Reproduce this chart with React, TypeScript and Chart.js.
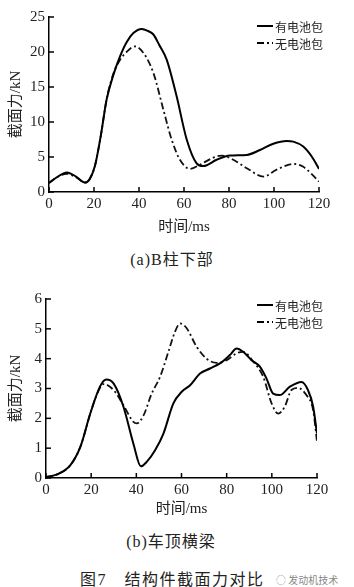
import React, { useEffect, useRef } from "react";
import { Chart, registerables } from "chart.js";

Chart.register(...registerables);

// ---------- data ----------
const seriesNames = ["有电池包", "无电池包"];

// (a) B柱下部
const aWithT = [0, 3, 8, 12, 16, 18, 20.4, 23, 25.6, 28.5, 31.6, 34.5, 37.5, 41.2, 44, 46.4, 49, 52.3, 56.7, 61.2, 65.6, 68.6, 74.5, 80.4, 87.9, 93.8, 99.7, 105.6, 108.6, 113, 116.7, 120];
const aWithF = [1.3, 2.0, 2.8, 2.2, 1.35, 1.8, 3.7, 8, 13.2, 16.6, 19.4, 21.4, 22.7, 23.3, 23.0, 22.5, 21.0, 18.9, 13.7, 7.5, 4.1, 3.7, 4.6, 5.2, 5.3, 6.0, 6.9, 7.3, 7.2, 6.5, 5.1, 3.3];
const aWithoutT = [0, 3, 8, 12, 16, 18, 20.4, 23, 25.6, 28.5, 31.6, 34.5, 38.2, 41.9, 46.4, 50.8, 54.5, 58.2, 62.7, 67.1, 73, 76.7, 81.9, 87.9, 95.3, 101.2, 108.6, 113, 120];
const aWithoutF = [1.3, 2.0, 2.6, 2.1, 1.35, 1.8, 3.7, 8, 13.2, 16.8, 18.9, 20.0, 20.8, 19.9, 17, 11.8, 7.5, 4.6, 3.3, 3.9, 4.9, 5.2, 4.6, 3.4, 2.2, 3.2, 4.0, 3.6, 1.5];

// (b) 车顶横梁
const bWithT = [0, 4.9, 10.8, 15.2, 19.6, 24, 26.7, 29.9, 34.3, 38.7, 42, 44.6, 48.3, 52, 56.4, 60.1, 63.8, 68.2, 72.6, 77, 81.4, 84.4, 87.3, 91, 94.7, 97.6, 100.6, 103.5, 108, 113.1, 116, 118.3, 120];
const bWithF = [0.03, 0.12, 0.43, 1.04, 2.16, 3.08, 3.3, 3.17, 2.39, 1.15, 0.39, 0.54, 0.93, 1.49, 2.5, 2.89, 3.11, 3.5, 3.67, 3.84, 4.12, 4.34, 4.23, 3.95, 3.73, 3.34, 2.83, 2.78, 3.06, 3.22, 2.95, 2.39, 1.49];
const bWithoutT = [0, 4.9, 10.8, 15.2, 19.6, 22, 25.5, 29.9, 34.3, 38.7, 40.2, 43.2, 46.8, 50.5, 54.2, 57.1, 59.4, 62.3, 66.7, 71.1, 75.6, 80, 84.4, 87.3, 91.8, 96.2, 99.9, 102.8, 105.7, 108.7, 111.6, 115.3, 118.3, 120];
const bWithoutF = [0.03, 0.12, 0.43, 1.04, 2.16, 2.7, 3.15, 2.95, 2.44, 1.88, 1.83, 2.1, 2.83, 3.39, 4.23, 4.9, 5.18, 5.02, 4.4, 4.0, 3.86, 3.95, 4.18, 4.23, 3.9, 3.39, 2.5, 2.16, 2.39, 2.95, 3.02, 2.78, 2.27, 1.21];

const xTitle = "时间/ms";
const yTitle = "截面力/kN";
const captionA = "(a)B柱下部";
const captionB = "(b)车顶横梁";
const figCaption = "图7\u3000结构件截面力对比";
const watermark = "发动机技术";

const SERIF = "'Liberation Serif', 'Times New Roman', 'DejaVu Serif', 'Noto Sans CJK SC', serif";
const TEXT = "#222";
const DASHDOT = [7, 3, 2, 3];

const toPts = (t: number[], f: number[]) => t.map((x, i) => ({ x, y: f[i] }));

// inner ticks + legend plugin
const decorPlugin = {
  id: "decor",
  afterDraw(chart: any) {
    const { ctx, chartArea } = chart;
    const xs = chart.scales.x;
    const ys = chart.scales.y;
    ctx.save();
    ctx.strokeStyle = "#000";
    ctx.lineWidth = 1.5;
    const tl = 5;
    xs.ticks.forEach((t: any) => {
      const px = xs.getPixelForValue(t.value);
      ctx.beginPath();
      ctx.moveTo(px, chartArea.bottom);
      ctx.lineTo(px, chartArea.bottom - tl);
      ctx.stroke();
    });
    ys.ticks.forEach((t: any) => {
      const py = ys.getPixelForValue(t.value);
      ctx.beginPath();
      ctx.moveTo(chartArea.left, py);
      ctx.lineTo(chartArea.left + tl, py);
      ctx.stroke();
    });
    // legend
    const lg = chart.options.plugins.decor;
    ctx.font = "12px 'Noto Sans CJK SC', sans-serif";
    ctx.fillStyle = TEXT;
    ctx.textBaseline = "middle";
    chart.data.datasets.forEach((ds: any, i: number) => {
      const y = lg.y + i * lg.gap;
      ctx.beginPath();
      ctx.setLineDash(ds.borderDash || []);
      ctx.lineWidth = 2;
      ctx.strokeStyle = "#000";
      ctx.moveTo(lg.x, y);
      ctx.lineTo(lg.x + 16, y);
      ctx.stroke();
      ctx.setLineDash([]);
      ctx.fillText(ds.label, lg.x + 18, y + 1);
    });
    ctx.restore();
  },
};

type Props = {
  withT: number[]; withF: number[]; withoutT: number[]; withoutF: number[];
  yMax: number; yStep: number; yWidth: number; xHeight: number;
  padTop: number; padRight: number; titleBottom: number; legendY: number; legendGap: number;
};

function ForceChart(p: Props) {
  const ref = useRef<HTMLCanvasElement>(null);
  useEffect(() => {
    const chart = new Chart(ref.current!, {
      type: "line",
      data: {
        datasets: [
          {
            label: seriesNames[0],
            data: toPts(p.withT, p.withF),
            borderColor: "#000",
            borderWidth: 2,
            pointRadius: 0,
            cubicInterpolationMode: "monotone",
          },
          {
            label: seriesNames[1],
            data: toPts(p.withoutT, p.withoutF),
            borderColor: "#111",
            borderWidth: 1.8,
            borderDash: DASHDOT,
            pointRadius: 0,
            cubicInterpolationMode: "monotone",
          },
        ],
      },
      options: {
        responsive: false,
        animation: false,
        layout: { padding: { left: 0, right: p.padRight, top: p.padTop, bottom: 0 } },
        plugins: {
          legend: { display: false },
          tooltip: { enabled: false },
          decor: { x: 257, y: p.legendY, gap: p.legendGap },
        } as any,
        scales: {
          x: {
            type: "linear",
            min: 0,
            max: 120,
            ticks: { stepSize: 20, color: TEXT, padding: 3, font: { family: SERIF, size: 15 }, maxRotation: 0 },
            grid: { display: true, drawOnChartArea: false, drawTicks: false },
            border: { display: true, color: "#000", width: 1.5 },
            title: { display: true, text: xTitle, color: TEXT, font: { family: SERIF, size: 15 }, padding: { top: 0, bottom: p.titleBottom } },
            afterFit: (s: any) => { s.height = p.xHeight; },
          },
          y: {
            min: 0,
            max: p.yMax,
            ticks: { stepSize: p.yStep, color: TEXT, padding: 4, font: { family: SERIF, size: 15 } },
            grid: { display: true, drawOnChartArea: false, drawTicks: false },
            border: { display: true, color: "#000", width: 1.5 },
            title: { display: true, text: yTitle, color: TEXT, font: { family: SERIF, size: 15 }, padding: { top: 7, bottom: 0 } },
            afterFit: (s: any) => { s.width = p.yWidth; },
          },
        },
      } as any,
      plugins: [decorPlugin],
    });
    return () => chart.destroy();
  }, []);
  return <canvas ref={ref} width={354} height={240} style={{ width: 354, height: 240, display: "block" }} />;
}

const capStyle: React.CSSProperties = {
  position: "absolute",
  left: 0,
  width: 354,
  textAlign: "center",
  fontFamily: SERIF,
  fontSize: 16,
  letterSpacing: 1,
  color: TEXT,
  lineHeight: "18px",
};

export default function App() {
  return (
    <div style={{ position: "absolute", left: 0, top: 0, width: 354, height: 587, background: "#fff", overflow: "hidden" }}>
      <div style={{ position: "absolute", left: 0, top: 0 }}>
        <ForceChart
          withT={aWithT} withF={aWithF} withoutT={aWithoutT} withoutF={aWithoutF}
          yMax={25} yStep={5} yWidth={49} xHeight={48}
          padTop={17} padRight={35} titleBottom={4} legendY={26} legendGap={17}
        />
      </div>
      <div style={{ ...capStyle, top: 251, left: -5 }}>{captionA}</div>
      <div style={{ position: "absolute", left: 0, top: 280 }}>
        <ForceChart
          withT={bWithT} withF={bWithF} withoutT={bWithoutT} withoutF={bWithoutF}
          yMax={6} yStep={1} yWidth={46} xHeight={42}
          padTop={19} padRight={37} titleBottom={2} legendY={25} legendGap={17}
        />
      </div>
      <div style={{ ...capStyle, top: 533, left: -6 }}>{captionB}</div>
      <div style={{ ...capStyle, top: 571, left: 80, width: "auto", textAlign: "left", fontSize: 16, letterSpacing: 1.5 }}>{figCaption}</div>
      <div style={{ position: "absolute", top: 574, left: 276, fontSize: 10, color: "#888", fontFamily: "'Noto Sans CJK SC', sans-serif", lineHeight: "12px" }}>
        ◌ {watermark}
      </div>
    </div>
  );
}
